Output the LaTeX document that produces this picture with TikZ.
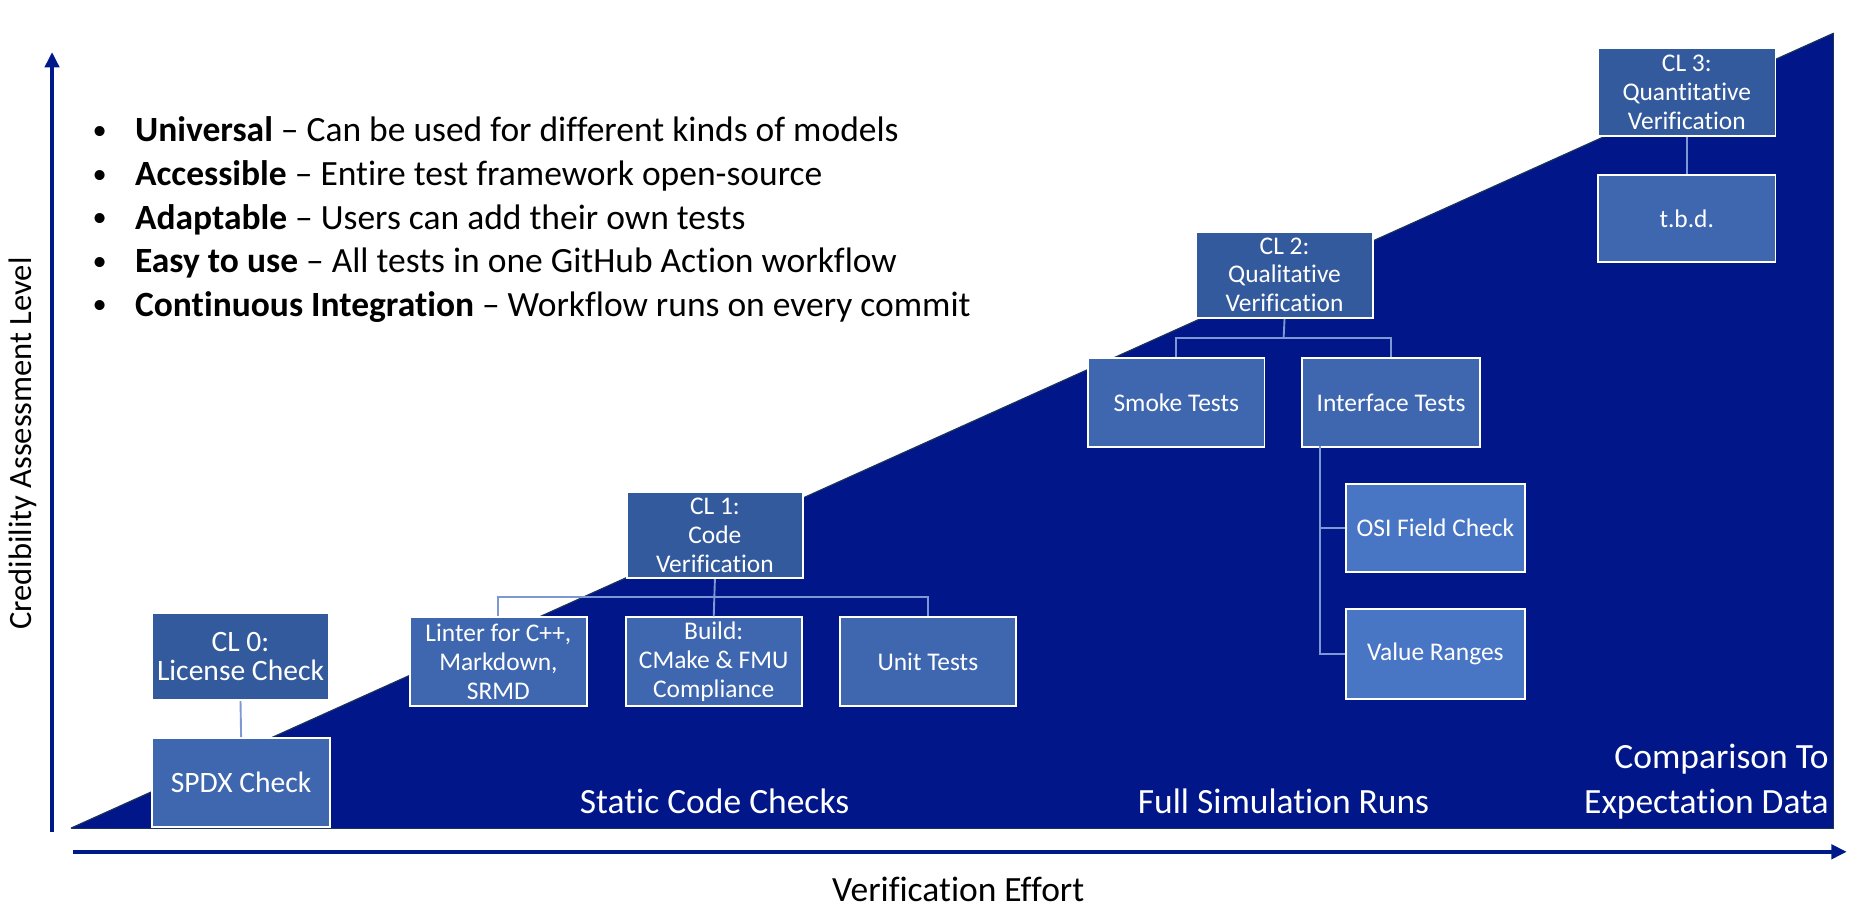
\documentclass[tikz,border=0pt]{standalone}
\usepackage{fontspec}
\setmainfont[Ligatures=NoCommon]{Carlito}
\usetikzlibrary{arrows.meta}
\definecolor{navy}{RGB}{0,22,137}
\definecolor{edgec}{RGB}{28,52,92}
\definecolor{clbox}{RGB}{52,90,158}
\definecolor{subbox}{RGB}{63,103,176}
\definecolor{subboxb}{RGB}{72,118,196}
\definecolor{conn}{RGB}{125,152,210}
\definecolor{axisc}{RGB}{0,25,138}
\begin{document}
\begin{tikzpicture}[x=1pt,y=-1pt,
  boxbase/.style={draw=white, line width=1.6pt, text=white, align=center,
    anchor=north west, inner sep=0pt, minimum width=149pt, minimum height=74pt,
    font=\fontsize{21.5}{24.5}\selectfont},
  clbx/.style={boxbase, fill=clbox},
  subbx/.style={boxbase, fill=subbox},
  subbxb/.style={boxbase, fill=subboxb},
  bigtxt/.style={font=\fontsize{25}{25}\selectfont},
  connline/.style={draw=conn, line width=1.6pt},
  bullettxt/.style={anchor=base west, inner sep=0pt, font=\fontsize{30}{36}\selectfont},
  bulletdot/.style={anchor=base west, inner sep=0pt, font=\fontsize{24}{36}\selectfont},
  regionlbl/.style={text=white, inner sep=0pt, font=\fontsize{30}{38}\selectfont},
  axisline/.style={draw=axisc, line width=3.2pt, -{Triangle[length=13pt,width=12pt]}}
]
\useasboundingbox (0,0) rectangle (1568,774);

% background triangle
\fill[navy] (60,700) -- (1550,700) -- (1550,28) -- cycle;
\draw[edgec, line width=1pt] (60,700) -- (1550,28);
\draw[edgec, line width=1pt] (60,700) -- (1550,700) -- (1550,28);

% axes
\coordinate (yb) at (44,703);
\coordinate (yt) at (44,44);
\coordinate (xl) at (62,720);
\coordinate (xr) at (1561,720);
\draw[axisline] (yb) -- (yt);
\draw[axisline] (xl) -- (xr);
\node[rotate=90, font=\fontsize{27.5}{27.5}\selectfont, inner sep=0pt] (ylab) at (19,375) {Credibility Assessment Level};
\node[anchor=base, font=\fontsize{30}{30}\selectfont, inner sep=0pt] (xlab) at (810,762) {Verification Effort};

% bullets
\foreach \i/\t in {0/{\textbf{Universal} – Can be used for different kinds of models},
                   1/{\textbf{Accessible} – Entire test framework open-source},
                   2/{\textbf{Adaptable} – Users can add their own tests},
                   3/{\textbf{Easy to use} – All tests in one GitHub Action workflow},
                   4/{\textbf{Continuous Integration} – Workflow runs on every commit}}{
  \node[bulletdot] (bd\i) at (78,118+36.8*\i) {•};
  \node[bullettxt] (bt\i) at (114,120+36.8*\i) {\t};
}

% CL 0
\node[clbx, bigtxt] (cl0) at (128,517) {CL 0:\\License Check};
\node[subbx, bigtxt, minimum width=150pt, minimum height=75pt] (spdx) at (128,623) {SPDX Check};
\draw[connline] (cl0.south) -- (spdx.north);

% CL 1
\node[clbx, minimum height=73pt] (cl1) at (529,415) {CL 1:\\Code\\Verification};
\node[subbx, minimum height=75pt] (lint) at (346,521) {Linter for C++,\\Markdown,\\SRMD};
\node[subbx, minimum height=75pt] (build) at (528,521) {Build:\\CMake \& FMU\\Compliance};
\node[subbx, minimum height=75pt] (unit) at (709,521) {Unit Tests};
\coordinate (j1) at (603,505);
\draw[connline] (cl1.south) -- (build.north);
\draw[connline] (lint.north) |- (j1) -| (unit.north);

% CL 2
\node[clbx, minimum width=150pt, minimum height=73pt] (cl2) at (1010,195) {CL 2:\\Qualitative\\Verification};
\node[subbx, minimum height=75pt] (smoke) at (919,302) {Smoke Tests};
\node[subbx, minimum width=150pt, minimum height=75pt] (iface) at (1100,302) {Interface Tests};
\coordinate (j2) at (1085,286);
\draw[connline] (cl2.south) -- (j2);
\draw[connline] (smoke.north) |- (j2) -| (iface.north);
\node[subbxb, minimum width=151pt, minimum height=75pt] (osi) at (1137,408) {OSI Field Check};
\node[subbxb, minimum width=151pt, minimum height=76pt] (val) at (1137,514) {Value Ranges};
\coordinate (t0) at (1116,377);
\draw[connline] (t0) |- (osi.west);
\draw[connline] (t0) |- (val.west);

% CL 3
\node[clbx, minimum width=150pt, minimum height=74pt] (cl3) at (1350,40) {CL 3:\\Quantitative\\Verification};
\node[subbx, minimum width=150pt, minimum height=74pt] (tbd) at (1350,147) {t.b.d.};
\draw[connline] (cl3.south) -- (tbd.north);

% region labels
\node[regionlbl, anchor=base] (r1) at (604,688) {Static Code Checks};
\node[regionlbl, anchor=base] (r2) at (1085,688) {Full Simulation Runs};
\node[regionlbl, anchor=base east, align=right] (r3) at (1546,688) {Comparison To\\Expectation Data};
\end{tikzpicture}
\end{document}
